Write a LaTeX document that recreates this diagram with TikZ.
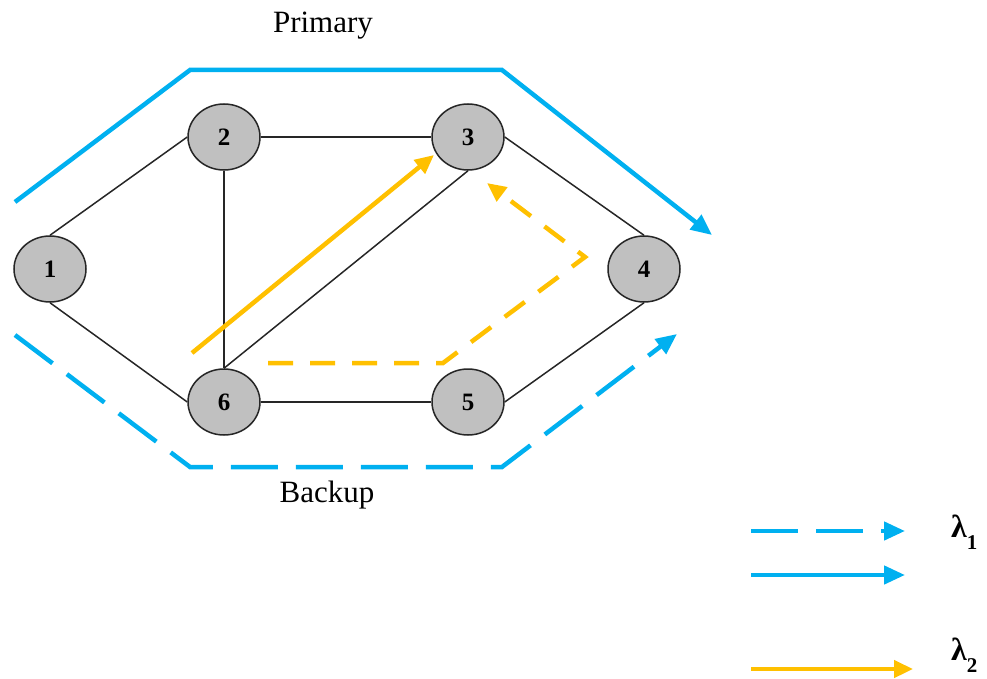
\documentclass[tikz,border=0pt]{standalone}
\usepackage{fontspec}
\setmainfont{Liberation Serif}
\usetikzlibrary{arrows.meta,shapes.geometric}
\definecolor{pblue}{HTML}{00B0F0}
\definecolor{pyellow}{HTML}{FFC000}
\definecolor{ngray}{HTML}{C0C0C0}
\begin{document}
\begin{tikzpicture}[x=1pt,y=-1pt,
  vertex/.style={ellipse,draw=black!85,line width=1.5pt,fill=ngray,minimum width=72pt,minimum height=66pt,inner sep=0pt,font=\fontsize{25}{25}\selectfont\bfseries},
  link/.style={draw=black!85,line width=1.5pt},
  bluetip/.style={-{Triangle[length=21pt,width=18pt]}},
  yeltip/.style={-{Triangle[length=19pt,width=17pt]}},
  primpath/.style={draw=pblue,line width=4.5pt},
  backpath/.style={draw=pblue,line width=4.5pt,dash pattern=on 47pt off 18pt},
  lam2path/.style={draw=pyellow,line width=4.5pt},
  lam2dash/.style={draw=pyellow,line width=4.5pt,dash pattern=on 25pt off 17pt},
  lbl/.style={font=\fontsize{31}{31}\selectfont,anchor=base},
  lam/.style={font=\fontsize{32}{32}\selectfont\bfseries,anchor=base west,inner sep=0pt}
]
\useasboundingbox (0,0) rectangle (987,679);

% nodes
\node[vertex] (n1) at (50,269) {1};
\node[vertex] (n2) at (224,137) {2};
\node[vertex] (n3) at (468,137) {3};
\node[vertex] (n4) at (644,269) {4};
\node[vertex] (n5) at (468,402) {5};
\node[vertex] (n6) at (224,402) {6};

% links
\draw[link] (n1.north) -- (n2.west);
\draw[link] (n1.south) -- (n6.west);
\draw[link] (n2.east) -- (n3.west);
\draw[link] (n2.south) -- (n6.north);
\draw[link] (n3.south) -- (n6.north);
\draw[link] (n3.east) -- (n4.north);
\draw[link] (n4.south) -- (n5.east);
\draw[link] (n6.east) -- (n5.west);

% path coordinates
\coordinate (pa) at (15,202);
\coordinate (pb) at (190,70);
\coordinate (pc) at (502,70);
\coordinate (pd) at (712,235);
\coordinate (ba) at (15,335);
\coordinate (bb) at (190,467);
\coordinate (bc) at (502,467);
\coordinate (bd) at (677,334);
\coordinate (ya) at (192,353);
\coordinate (yb) at (434,155);
\coordinate (da) at (268,363);
\coordinate (db) at (443,363);
\coordinate (dc) at (585,257);
\coordinate (dd) at (487,183);

\draw[primpath,bluetip,line join=miter] (pa) -- (pb) -- (pc) -- (pd);
\draw[backpath,bluetip,line join=miter] (ba) -- (bb) -- (bc) -- (bd);
\draw[lam2path,yeltip] (ya) -- (yb);
\draw[lam2dash,yeltip,line join=miter] (da) -- (db) -- (dc) -- (dd);

% labels
\node[lbl] (prim) at (323,33) {Primary};
\node[lbl] (back) at (327,502) {Backup};

% legend
\coordinate (l1a) at (751,531);
\coordinate (l1b) at (905,531);
\coordinate (l2a) at (751,575);
\coordinate (l2b) at (905,575);
\coordinate (l3a) at (751,669);
\coordinate (l3b) at (913,669);
\draw[backpath,bluetip] (l1a) -- (l1b);
\draw[primpath,bluetip] (l2a) -- (l2b);
\draw[lam2path,yeltip] (l3a) -- (l3b);
\node[lam] (lam1) at (951,537) {λ\raisebox{-12pt}{\fontsize{21}{21}\selectfont 1}};
\node[lam] (lam2) at (951,660) {λ\raisebox{-12pt}{\fontsize{21}{21}\selectfont 2}};
\end{tikzpicture}
\end{document}
